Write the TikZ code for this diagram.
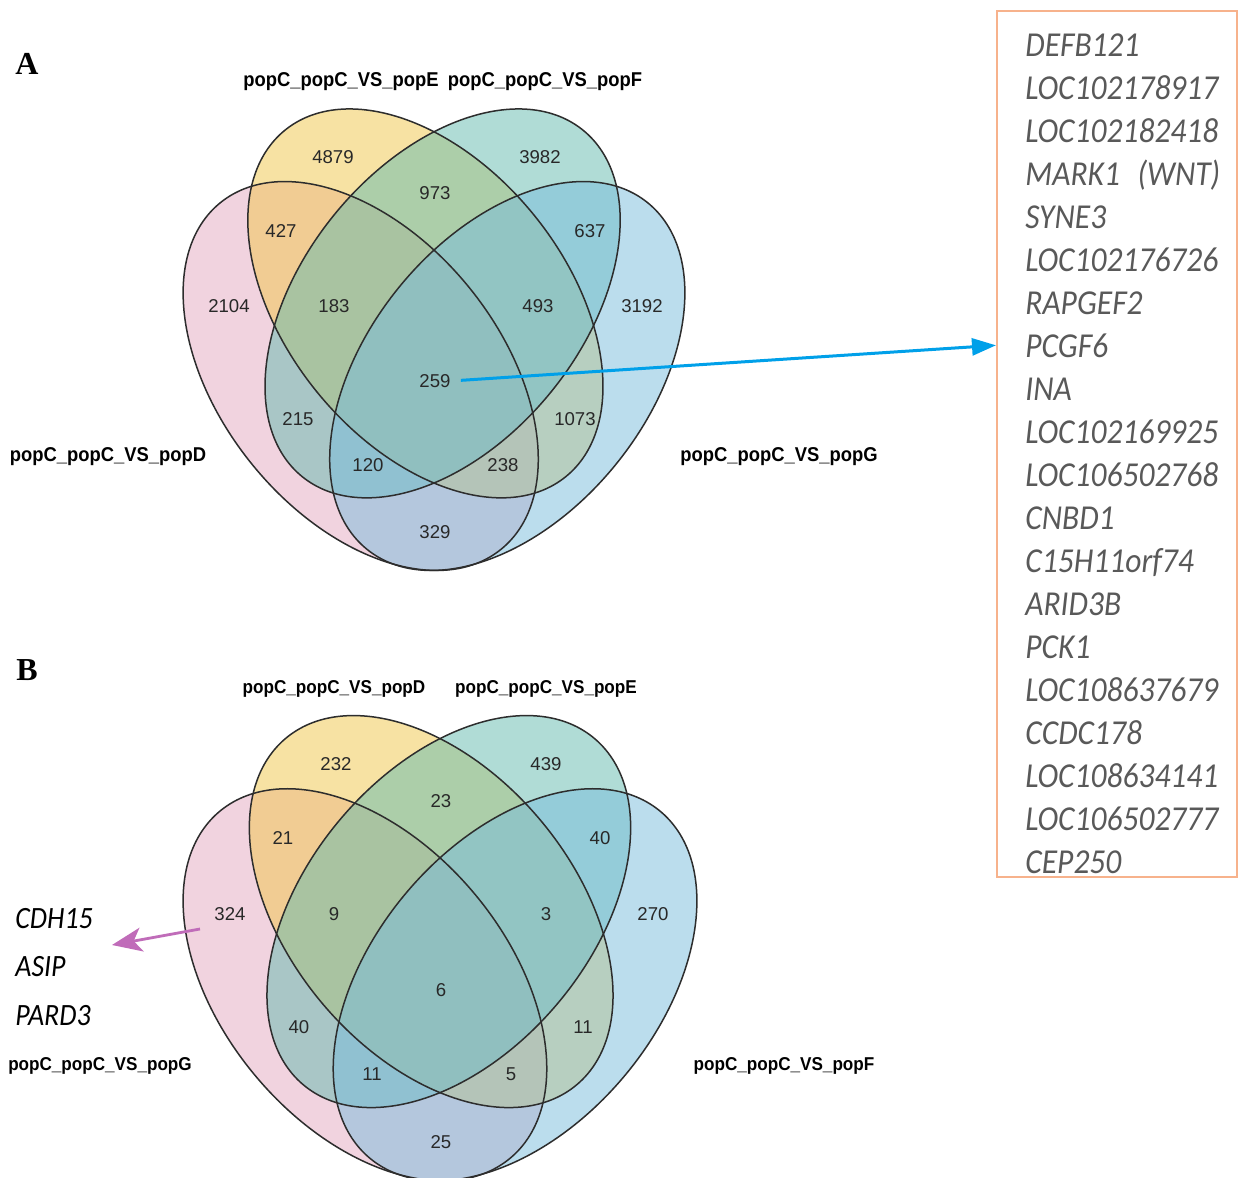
\documentclass[tikz,border=0pt]{standalone}
\usepackage{fontspec}
\setmainfont{Liberation Sans}
\newfontfamily\labfont[FakeStretch=0.92]{Liberation Sans}
\newfontfamily\genefont[FakeStretch=0.9]{Carlito}
\newfontfamily\panelfont{Liberation Serif}
\usetikzlibrary{arrows.meta}
\definecolor{cpink}{RGB}{229,169,193}
\definecolor{cyellow}{RGB}{241,199,73}
\definecolor{cteal}{RGB}{99,187,175}
\definecolor{cblue}{RGB}{121,189,221}
\definecolor{edgec}{RGB}{45,45,45}
\definecolor{numc}{RGB}{40,40,40}
\definecolor{genec}{RGB}{89,89,89}
\definecolor{boxc}{RGB}{247,178,140}
\definecolor{arrblue}{RGB}{0,160,233}
\definecolor{arrpurple}{RGB}{192,108,185}
\newcommand\drawvenn{%
  \fill[cpink,fill opacity=0.5,rotate around={-51:(360.7,376)}] (360.7,376) ellipse [x radius=223,y radius=140];
  \fill[cyellow,fill opacity=0.5,rotate around={-51:(425.4,303.4)}] (425.4,303.4) ellipse [x radius=223,y radius=140];
  \fill[cteal,fill opacity=0.5,rotate around={51:(442.6,303.4)}] (442.6,303.4) ellipse [x radius=223,y radius=140];
  \fill[cblue,fill opacity=0.5,rotate around={51:(507.3,376)}] (507.3,376) ellipse [x radius=223,y radius=140];
  \draw[vedge,rotate around={-51:(360.7,376)}] (360.7,376) ellipse [x radius=223,y radius=140];
  \draw[vedge,rotate around={-51:(425.4,303.4)}] (425.4,303.4) ellipse [x radius=223,y radius=140];
  \draw[vedge,rotate around={51:(442.6,303.4)}] (442.6,303.4) ellipse [x radius=223,y radius=140];
  \draw[vedge,rotate around={51:(507.3,376)}] (507.3,376) ellipse [x radius=223,y radius=140];
}
\begin{document}
\begin{tikzpicture}[x=0.5pt,y=-0.5pt,
  vedge/.style={draw=edgec,line width=0.75pt},
  num/.style={font=\fontsize{9.3}{11}\selectfont,text=numc,inner sep=0pt},
  setlab/.style={font=\labfont\bfseries\fontsize{10}{12}\selectfont,text=black,inner sep=0pt},
  setlabB/.style={font=\labfont\bfseries\fontsize{9.3}{11}\selectfont,text=black,inner sep=0pt},
  gene/.style={font=\genefont\itshape\fontsize{17.5}{20}\selectfont,text=genec,anchor=base west,inner sep=0pt},
  gene2/.style={font=\genefont\itshape\fontsize{15.5}{18}\selectfont,text=black,anchor=base west,inner sep=0pt},
  panel/.style={font=\panelfont\bfseries\fontsize{16}{18}\selectfont,inner sep=0pt},
  genebox/.style={draw=boxc,line width=1pt,minimum width=120pt,minimum height=433pt,inner sep=0pt},
  bluearrow/.style={draw=arrblue,line width=1.5pt,-{Triangle[length=12pt,width=8.5pt]}},
  purplearrow/.style={draw=arrpurple,line width=1.4pt,-{Stealth[length=15pt,width=12pt,inset=4pt]}}]
\fill[white] (0,0) rectangle (1239,1178);
\useasboundingbox (0,0) rectangle (1239,1178);

% ---------- Panel A ----------
\drawvenn
\node[panel] (pA) at (27,64) {A};
\node[setlab] (lAE) at (341,82) {popC\_popC\_VS\_popE};
\node[setlab] (lAF) at (545,82) {popC\_popC\_VS\_popF};
\node[setlab] (lAD) at (108,457) {popC\_popC\_VS\_popD};
\node[setlab] (lAG) at (779,457) {popC\_popC\_VS\_popG};
\node[num] (a4879) at (333,157) {4879};
\node[num] (a3982) at (540,157) {3982};
\node[num] (a973) at (435,193) {973};
\node[num] (a427) at (281,231) {427};
\node[num] (a637) at (590,231) {637};
\node[num] (a2104) at (229,306) {2104};
\node[num] (a183) at (334,306) {183};
\node[num] (a493) at (538,306) {493};
\node[num] (a3192) at (642,306) {3192};
\node[num] (a259) at (435,381) {259};
\node[num] (a215) at (298,419) {215};
\node[num] (a1073) at (575,419) {1073};
\node[num] (a120) at (368,465) {120};
\node[num] (a238) at (503,465) {238};
\node[num] (a329) at (435,532) {329};

% ---------- Panel B ----------
\begin{scope}[shift={(440,764)},xscale=1.024,yscale=1.008,shift={(-434,-157)}]
\drawvenn
\end{scope}
\node[panel] (pB) at (27,670) {B};
\node[setlabB] (lBD) at (334,689) {popC\_popC\_VS\_popD};
\node[setlabB] (lBE) at (546,689) {popC\_popC\_VS\_popE};
\node[setlabB] (lBG) at (100,1066) {popC\_popC\_VS\_popG};
\node[setlabB] (lBF) at (784,1066) {popC\_popC\_VS\_popF};
\node[num] (b232) at (336,764) {232};
\node[num] (b439) at (546,764) {439};
\node[num] (b23) at (441,801) {23};
\node[num] (b21) at (283,838) {21};
\node[num] (b40a) at (600,838) {40};
\node[num] (b324) at (230,914) {324};
\node[num] (b9) at (334,914) {9};
\node[num] (b3) at (546,914) {3};
\node[num] (b270) at (653,914) {270};
\node[num] (b6) at (441,990) {6};
\node[num] (b40b) at (299,1027) {40};
\node[num] (b11a) at (583,1027) {11};
\node[num] (b11b) at (372,1074) {11};
\node[num] (b5) at (511,1074) {5};
\node[num] (b25) at (441,1142) {25};

% ---------- gene list box ----------
\node[genebox] (genebox) at (1117,444) {};
\foreach \g [count=\i from 0] in {DEFB121,LOC102178917,LOC102182418,{MARK1\hspace{0.5em}(WNT)},SYNE3,LOC102176726,RAPGEF2,PCGF6,INA,LOC102169925,LOC106502768,CNBD1,C15H11orf74,ARID3B,PCK1,LOC108637679,CCDC178,LOC108634141,LOC106502777,CEP250}
  \node[gene] (g\i) at (1025,56+43*\i) {\g};
\draw[bluearrow,shorten <=5pt] (a259.east) -- (genebox.west |- g7);

% ---------- left gene list ----------
\node[gene2] (cdh15) at (15,928) {CDH15};
\node[gene2] (asip) at (15,976) {ASIP};
\node[gene2] (pard3) at (15,1025) {PARD3};
\coordinate (ptail) at (200,929);
\coordinate (ptip) at (112,945);
\draw[purplearrow] (ptail) -- (ptip);
\end{tikzpicture}
\end{document}
